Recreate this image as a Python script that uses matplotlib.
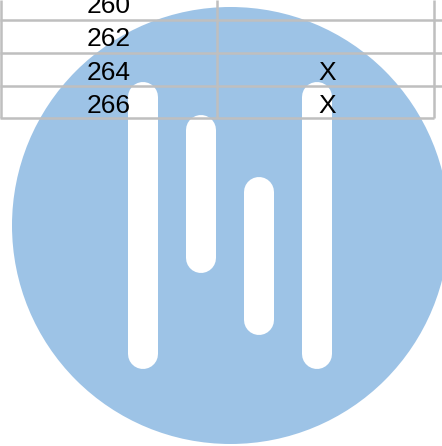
import matplotlib
matplotlib.use('Agg')
import matplotlib.pyplot as plt
from matplotlib.patches import Circle

# table rows (pixel space of the image)
row_labels = ['260', '262', '264', '266']
row_marks = ['', '', 'X', 'X']
row_baselines = [13, 46.5, 80, 113]
grid_rows = [19.8, 52.7, 86, 118.3]
grid_cols = [1, 217, 434]

# logo bars
bar_centers = [143.3, 201, 259, 317]
bar_tops = [82, 115, 177, 82]
bar_bottoms = [369, 273, 335, 369]
bar_width = 30

blue = '#9DC3E6'
grid_color = '#BFBFBF'

plt.rcParams['font.family'] = ['Liberation Sans', 'DejaVu Sans']

fig = plt.figure(figsize=(4.42, 4.46), dpi=100)
ax = fig.add_axes([0, 0, 1, 1])
ax.set_xlim(0, 442)
ax.set_ylim(446, 0)
ax.axis('off')

ax.add_patch(Circle((230.5, 225.5), 218.5, fc=blue, ec='none', zorder=1))

# round caps stick out by half the width, so pull the ends in
lw_pts = bar_width * 72 / 100
for c, top, bottom in zip(bar_centers, bar_tops, bar_bottoms):
    ax.plot([c, c], [top + bar_width / 2, bottom - bar_width / 2], color='white', lw=lw_pts,
            solid_capstyle='round', zorder=2)

# grid goes over the logo
for y in grid_rows:
    ax.plot([0, 442 if y < 118 else 434], [y, y], color=grid_color, lw=1.8, zorder=3,
            solid_capstyle='butt')
for x in grid_cols:
    ax.plot([x, x], [0, 118.3], color=grid_color, lw=1.8, zorder=3, solid_capstyle='butt')

for label, mark, y in zip(row_labels, row_marks, row_baselines):
    ax.text(131, y, label, fontsize=19, ha='right', va='baseline', color='black', zorder=4)
    if mark:
        ax.text(327.5, y, mark, fontsize=19, ha='center', va='baseline', color='black', zorder=4)

fig.savefig('out.png', dpi=100)
